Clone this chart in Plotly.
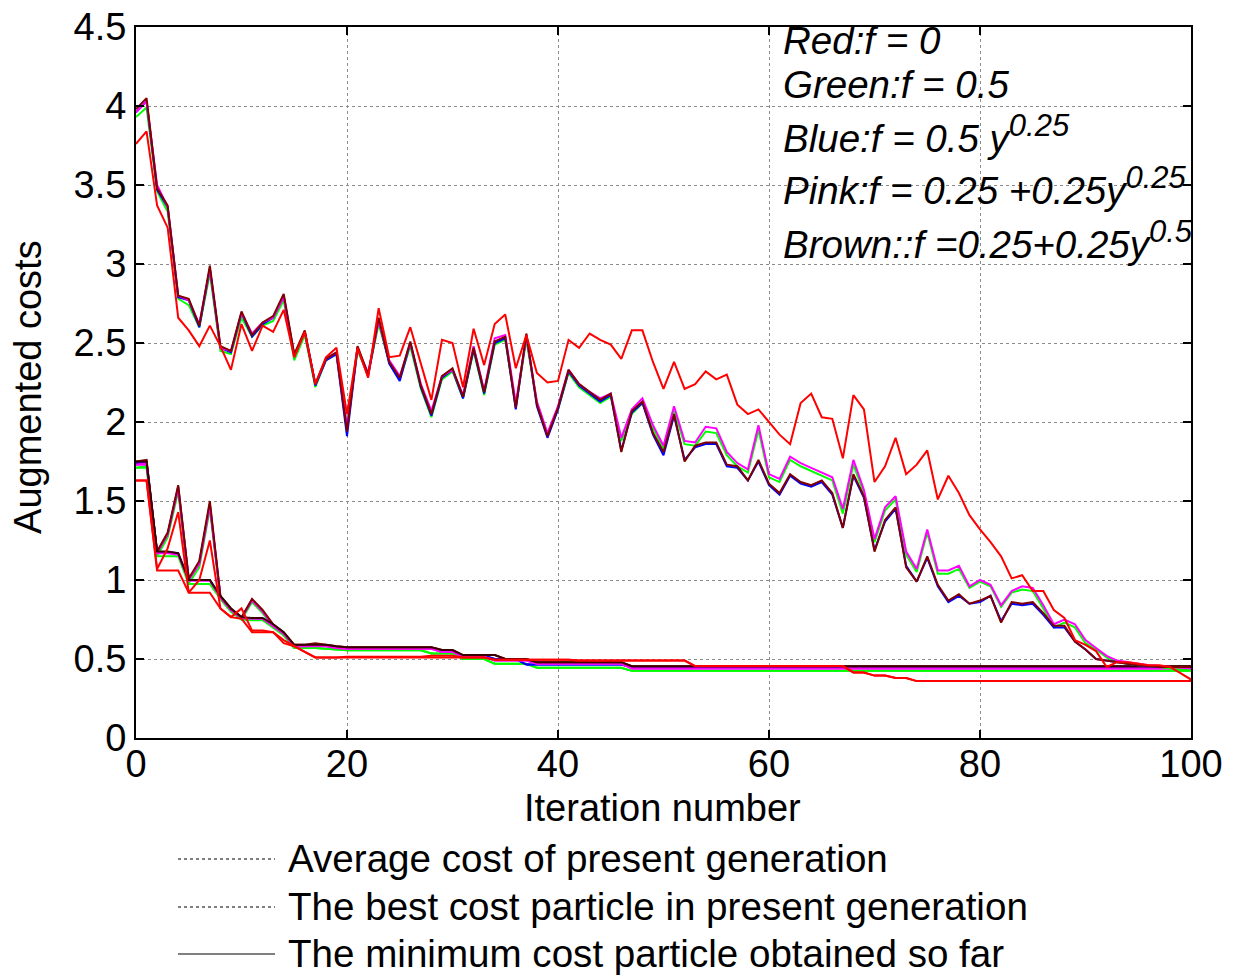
import plotly.graph_objects as go

iters = list(range(101))

# ---- average cost curves (upper group) ----
avg_red = [3.76,3.84,3.37,3.23,2.66,2.58,2.48,2.61,2.48,2.33,
2.62,2.45,2.61,2.57,2.71,2.41,2.57,2.24,2.41,2.47,
2.05,2.47,2.28,2.72,2.41,2.42,2.60,2.37,2.14,2.52,
2.50,2.22,2.59,2.36,2.62,2.68,2.34,2.55,2.31,2.25,
2.26,2.52,2.47,2.56,2.52,2.49,2.40,2.58,2.58,2.38,
2.21,2.38,2.21,2.24,2.32,2.27,2.30,2.11,2.05,2.08,
2.00,1.92,1.86,2.12,2.18,2.03,2.02,1.77,2.17,2.08,
1.62,1.72,1.90,1.67,1.73,1.82,1.51,1.66,1.55,1.41,
1.32,1.24,1.15,1.01,1.03,0.93,0.93,0.81,0.76,0.62,
0.59,0.55,0.45,0.48,0.48,0.47,0.46,0.46,0.45,0.41,0.37]

avg_green = [3.93,3.99,3.46,3.33,2.78,2.74,2.60,2.94,2.45,2.43,
2.66,2.54,2.61,2.64,2.77,2.39,2.55,2.22,2.39,2.43,
1.98,2.45,2.30,2.62,2.38,2.27,2.48,2.21,2.03,2.27,
2.32,2.15,2.45,2.17,2.49,2.52,2.10,2.52,2.12,1.92,
2.08,2.31,2.22,2.17,2.12,2.16,1.88,2.05,2.12,1.96,
1.83,2.07,1.86,1.85,1.94,1.93,1.79,1.72,1.68,1.95,
1.65,1.62,1.76,1.72,1.69,1.66,1.63,1.42,1.73,1.55,
1.24,1.44,1.51,1.16,1.05,1.30,1.04,1.04,1.07,0.95,
0.99,0.96,0.83,0.92,0.94,0.93,0.82,0.70,0.73,0.70,
0.60,0.56,0.51,0.48,0.47,0.46,0.455,0.45,0.44,0.435,0.43]

avg_blue = [3.96,4.03,3.47,3.36,2.79,2.77,2.60,2.97,2.47,2.44,
2.69,2.54,2.62,2.66,2.80,2.42,2.57,2.23,2.39,2.43,
1.91,2.47,2.29,2.65,2.37,2.26,2.50,2.22,2.04,2.28,
2.33,2.15,2.46,2.18,2.50,2.53,2.08,2.55,2.10,1.90,
2.08,2.32,2.23,2.18,2.13,2.17,1.82,2.06,2.12,1.92,
1.79,2.04,1.76,1.84,1.86,1.86,1.72,1.71,1.63,1.75,
1.60,1.54,1.66,1.61,1.59,1.62,1.54,1.33,1.66,1.52,
1.19,1.37,1.45,1.09,0.99,1.14,0.96,0.86,0.90,0.85,
0.86,0.90,0.74,0.85,0.84,0.85,0.78,0.70,0.70,0.61,
0.56,0.50,0.49,0.48,0.47,0.46,0.455,0.45,0.45,0.45,0.445]

avg_pink = [3.96,4.03,3.50,3.36,2.80,2.77,2.62,2.97,2.47,2.45,
2.69,2.56,2.63,2.66,2.79,2.41,2.57,2.24,2.40,2.44,
1.97,2.47,2.31,2.64,2.39,2.29,2.50,2.24,2.07,2.29,
2.33,2.17,2.48,2.20,2.53,2.55,2.12,2.54,2.13,1.93,
2.10,2.33,2.24,2.19,2.15,2.18,1.90,2.08,2.15,1.98,
1.85,2.10,1.88,1.87,1.97,1.96,1.81,1.74,1.70,1.98,
1.67,1.64,1.78,1.74,1.71,1.68,1.65,1.45,1.76,1.57,
1.26,1.46,1.53,1.18,1.07,1.32,1.06,1.06,1.09,0.96,
1.00,0.97,0.84,0.93,0.96,0.95,0.84,0.72,0.75,0.72,
0.62,0.57,0.52,0.49,0.48,0.47,0.46,0.455,0.45,0.445,0.44]

avg_brown = [3.98,4.05,3.48,3.37,2.80,2.78,2.61,2.99,2.48,2.45,
2.70,2.55,2.63,2.67,2.81,2.43,2.58,2.24,2.40,2.44,
1.94,2.48,2.30,2.66,2.38,2.28,2.51,2.23,2.05,2.29,
2.34,2.16,2.47,2.19,2.51,2.54,2.09,2.56,2.11,1.91,
2.09,2.33,2.24,2.19,2.14,2.18,1.81,2.07,2.13,1.93,
1.81,2.05,1.75,1.85,1.87,1.87,1.73,1.72,1.63,1.76,
1.61,1.55,1.67,1.62,1.60,1.63,1.55,1.33,1.67,1.53,
1.18,1.38,1.46,1.08,0.99,1.15,0.97,0.87,0.91,0.85,
0.87,0.90,0.73,0.86,0.85,0.86,0.79,0.71,0.71,0.61,
0.56,0.50,0.49,0.48,0.47,0.46,0.455,0.45,0.45,0.45,0.45]

# ---- best cost particle in present generation (lower group) ----
best_red = [1.63,1.63,1.07,1.20,1.43,0.92,1.00,1.25,0.82,0.765,
0.82,0.68,0.68,0.67,0.62,0.58,0.545,0.51,0.51,0.51,
0.515,0.515,0.515,0.515,0.515,0.515,0.515,0.515,0.52,0.52,
0.52,0.51,0.51,0.51,0.496,0.496,0.496,0.496,0.496,0.496,
0.496,0.496,0.49,0.49,0.49,0.49,0.49,0.49,0.49,0.49,
0.49,0.49,0.49,0.455,0.455,0.455,0.455,0.455,0.455,0.455,
0.455,0.455,0.455,0.455,0.455,0.455,0.455,0.455,0.415,0.415,
0.395,0.395,0.38,0.38,0.36,0.36,0.36,0.36,0.36,0.36,
0.36,0.36,0.36,0.36,0.36,0.36,0.36,0.36,0.36,0.36,
0.36,0.36,0.36,0.36,0.36,0.36,0.36,0.36,0.36,0.36,0.36]

best_green = [1.71,1.72,1.15,1.27,1.56,0.98,1.08,1.45,0.88,0.80,
0.75,0.86,0.79,0.70,0.65,0.57,0.57,0.57,0.565,0.56,
0.555,0.555,0.555,0.555,0.555,0.555,0.555,0.555,0.535,0.535,
0.535,0.50,0.50,0.50,0.47,0.47,0.47,0.47,0.445,0.445,
0.445,0.445,0.445,0.445,0.445,0.445,0.445,0.425,0.425,0.425,
0.425,0.425,0.425,0.425,0.425,0.425,0.425,0.425,0.425,0.425,
0.425,0.425,0.425,0.425,0.425,0.425,0.425,0.425,0.425,0.425,
0.425,0.425,0.425,0.425,0.425,0.425,0.425,0.425,0.425,0.425,
0.425,0.425,0.425,0.425,0.425,0.425,0.425,0.425,0.425,0.425,
0.425,0.425,0.425,0.425,0.425,0.425,0.425,0.425,0.425,0.425,0.425]

best_blue = [1.74,1.75,1.175,1.29,1.59,1.005,1.11,1.48,0.895,0.815,
0.76,0.875,0.805,0.715,0.665,0.585,0.585,0.59,0.585,0.575,
0.57,0.57,0.57,0.57,0.57,0.57,0.57,0.57,0.57,0.55,
0.55,0.52,0.52,0.52,0.50,0.50,0.50,0.465,0.465,0.465,
0.465,0.465,0.465,0.465,0.465,0.465,0.465,0.448,0.448,0.448,
0.448,0.448,0.448,0.448,0.448,0.448,0.448,0.448,0.448,0.448,
0.448,0.448,0.448,0.448,0.448,0.448,0.448,0.448,0.448,0.448,
0.448,0.448,0.448,0.448,0.448,0.448,0.448,0.448,0.448,0.448,
0.448,0.448,0.448,0.448,0.448,0.448,0.448,0.448,0.448,0.448,
0.448,0.448,0.448,0.448,0.448,0.448,0.448,0.448,0.448,0.448,0.448]

best_pink = [1.73,1.74,1.17,1.29,1.58,1.00,1.10,1.47,0.89,0.81,
0.76,0.87,0.80,0.71,0.66,0.58,0.58,0.585,0.58,0.57,
0.565,0.565,0.565,0.565,0.565,0.565,0.565,0.565,0.565,0.545,
0.545,0.515,0.515,0.515,0.49,0.49,0.49,0.49,0.47,0.47,
0.47,0.47,0.47,0.47,0.47,0.47,0.47,0.44,0.44,0.44,
0.44,0.44,0.44,0.44,0.44,0.44,0.44,0.44,0.44,0.44,
0.44,0.44,0.44,0.44,0.44,0.44,0.44,0.44,0.44,0.44,
0.44,0.44,0.44,0.44,0.44,0.44,0.44,0.44,0.44,0.44,
0.44,0.44,0.44,0.44,0.44,0.44,0.44,0.44,0.44,0.44,
0.44,0.44,0.44,0.44,0.44,0.44,0.44,0.44,0.44,0.44,0.44]

best_brown = [1.75,1.76,1.18,1.30,1.60,1.01,1.12,1.50,0.90,0.82,
0.765,0.88,0.81,0.72,0.67,0.59,0.59,0.60,0.59,0.58,
0.575,0.575,0.575,0.575,0.575,0.575,0.575,0.575,0.575,0.557,
0.557,0.525,0.525,0.525,0.525,0.50,0.50,0.50,0.48,0.48,
0.48,0.48,0.48,0.48,0.48,0.48,0.48,0.454,0.454,0.454,
0.454,0.454,0.454,0.454,0.454,0.454,0.454,0.454,0.454,0.454,
0.454,0.454,0.454,0.454,0.454,0.454,0.454,0.454,0.454,0.454,
0.454,0.454,0.454,0.454,0.454,0.454,0.454,0.454,0.454,0.454,
0.454,0.454,0.454,0.454,0.454,0.454,0.454,0.454,0.454,0.454,
0.454,0.454,0.454,0.454,0.454,0.454,0.454,0.454,0.454,0.454,0.454]

# ---- minimum cost particle obtained so far (lower group) ----
min_red = [1.63,1.63,1.06,1.06,1.06,0.92,0.92,0.92,0.82,0.765,
0.755,0.67,0.67,0.67,0.60,0.58,0.545,0.51,0.51,0.51,
0.51,0.51,0.51,0.51,0.51,0.51,0.51,0.51,0.51,0.51,
0.51,0.51,0.51,0.51,0.496,0.496,0.496,0.496,0.496,0.496,
0.496,0.496,0.49,0.49,0.49,0.49,0.49,0.49,0.49,0.49,
0.49,0.49,0.49,0.455,0.455,0.455,0.455,0.455,0.455,0.455,
0.455,0.455,0.455,0.455,0.455,0.455,0.455,0.455,0.415,0.415,
0.395,0.395,0.38,0.38,0.36,0.36,0.36,0.36,0.36,0.36,
0.36,0.36,0.36,0.36,0.36,0.36,0.36,0.36,0.36,0.36,
0.36,0.36,0.36,0.36,0.36,0.36,0.36,0.36,0.36,0.36,0.36]

min_green = [1.71,1.71,1.15,1.15,1.15,0.975,0.975,0.975,0.88,0.80,
0.75,0.745,0.745,0.70,0.65,0.57,0.57,0.57,0.565,0.56,
0.555,0.555,0.555,0.555,0.555,0.555,0.555,0.555,0.535,0.535,
0.535,0.50,0.50,0.50,0.47,0.47,0.47,0.47,0.445,0.445,
0.445,0.445,0.445,0.445,0.445,0.445,0.445,0.425,0.425,0.425,
0.425,0.425,0.425,0.425,0.425,0.425,0.425,0.425,0.425,0.425,
0.425,0.425,0.425,0.425,0.425,0.425,0.425,0.425,0.425,0.425,
0.425,0.425,0.425,0.425,0.425,0.425,0.425,0.425,0.425,0.425,
0.425,0.425,0.425,0.425,0.425,0.425,0.425,0.425,0.425,0.425,
0.425,0.425,0.425,0.425,0.425,0.425,0.425,0.425,0.425,0.425,0.425]

min_blue = [1.74,1.74,1.175,1.175,1.17,1.00,1.00,1.00,0.895,0.815,
0.76,0.757,0.757,0.715,0.665,0.585,0.585,0.585,0.585,0.575,
0.57,0.57,0.57,0.57,0.57,0.57,0.57,0.57,0.57,0.55,
0.55,0.52,0.52,0.52,0.50,0.50,0.50,0.465,0.465,0.465,
0.465,0.465,0.465,0.465,0.465,0.465,0.465,0.448,0.448,0.448,
0.448,0.448,0.448,0.448,0.448,0.448,0.448,0.448,0.448,0.448,
0.448,0.448,0.448,0.448,0.448,0.448,0.448,0.448,0.448,0.448,
0.448,0.448,0.448,0.448,0.448,0.448,0.448,0.448,0.448,0.448,
0.448,0.448,0.448,0.448,0.448,0.448,0.448,0.448,0.448,0.448,
0.448,0.448,0.448,0.448,0.448,0.448,0.448,0.448,0.448,0.448,0.448]

min_pink = [1.73,1.73,1.17,1.17,1.16,0.995,0.995,0.995,0.89,0.81,
0.76,0.755,0.755,0.71,0.66,0.58,0.58,0.58,0.58,0.57,
0.565,0.565,0.565,0.565,0.565,0.565,0.565,0.565,0.565,0.545,
0.545,0.515,0.515,0.515,0.49,0.49,0.49,0.49,0.47,0.47,
0.47,0.47,0.47,0.47,0.47,0.47,0.47,0.44,0.44,0.44,
0.44,0.44,0.44,0.44,0.44,0.44,0.44,0.44,0.44,0.44,
0.44,0.44,0.44,0.44,0.44,0.44,0.44,0.44,0.44,0.44,
0.44,0.44,0.44,0.44,0.44,0.44,0.44,0.44,0.44,0.44,
0.44,0.44,0.44,0.44,0.44,0.44,0.44,0.44,0.44,0.44,
0.44,0.44,0.44,0.44,0.44,0.44,0.44,0.44,0.44,0.44,0.44]

min_brown = [1.75,1.75,1.18,1.18,1.17,1.00,1.00,1.00,0.90,0.82,
0.765,0.76,0.76,0.72,0.67,0.59,0.59,0.59,0.59,0.58,
0.575,0.575,0.575,0.575,0.575,0.575,0.575,0.575,0.575,0.557,
0.557,0.525,0.525,0.525,0.525,0.50,0.50,0.50,0.48,0.48,
0.48,0.48,0.48,0.48,0.48,0.48,0.48,0.454,0.454,0.454,
0.454,0.454,0.454,0.454,0.454,0.454,0.454,0.454,0.454,0.454,
0.454,0.454,0.454,0.454,0.454,0.454,0.454,0.454,0.454,0.454,
0.454,0.454,0.454,0.454,0.454,0.454,0.454,0.454,0.454,0.454,
0.454,0.454,0.454,0.454,0.454,0.454,0.454,0.454,0.454,0.454,
0.454,0.454,0.454,0.454,0.454,0.454,0.454,0.454,0.454,0.454,0.454]

x_ticks = [0, 20, 40, 60, 80, 100]
y_ticks = [0, 0.5, 1, 1.5, 2, 2.5, 3, 3.5, 4, 4.5]
y_tick_text = ["0", "0.5", "1", "1.5", "2", "2.5", "3", "3.5", "4", "4.5"]

legend_labels = ["Average cost of present generation",
                 "The best cost particle in present generation",
                 "The minimum cost particle obtained so far"]
legend_dash = ["dot", "dot", "solid"]

SUP = "<sup><span style='font-size:31px'>{}</span></sup>"
formula_lines = ["Red:f = 0",
                 "Green:f = 0.5",
                 "Blue:f = 0.5 y" + SUP.format("0.25"),
                 "Pink:f = 0.25 +0.25y" + SUP.format("0.25"),
                 "Brown::f =0.25+0.25y" + SUP.format("0.5")]

RED, GREEN, BLUE, PINK, BROWN, DARK = "#FF0000", "#00FF00", "#0000FF", "#FF00FF", "#800000", "#3a0000"
FONT = "Liberation Sans, Arial, Helvetica, sans-serif"

fig = go.Figure()

groups = [
    (min_green, GREEN), (best_green, GREEN),
    (min_blue, BLUE), (best_blue, BLUE),
    (min_pink, PINK), (best_pink, PINK),
    (best_brown, BROWN), (min_brown, DARK),
    (min_red, RED), (best_red, RED),
    (avg_green, GREEN), (avg_blue, BLUE), (avg_pink, PINK), (avg_brown, BROWN), (avg_red, RED),
]
for ys, col in groups:
    fig.add_trace(go.Scatter(x=iters, y=ys, mode="lines",
                             line=dict(color=col, width=2),
                             showlegend=False, hoverinfo="skip"))

axis_common = dict(showline=True, linecolor="black", linewidth=2, mirror="ticks",
                   ticks="inside", ticklen=8, tickwidth=2, tickcolor="black",
                   showgrid=True, gridcolor="#8c8c8c", griddash="dot", gridwidth=1,
                   zeroline=False, automargin=False,
                   tickfont=dict(family=FONT, size=38, color="black"))

fig.update_xaxes(range=[0, 100], tickvals=x_ticks, ticklabelstandoff=-9, **axis_common)
fig.update_yaxes(range=[0, 4.5], tickvals=y_ticks, ticktext=y_tick_text, **axis_common)

annotations = []
# axis titles
annotations.append(dict(text="Iteration number", x=0.4986, y=-0.0985, xref="paper", yref="paper",
                        xanchor="center", yanchor="middle", showarrow=False,
                        font=dict(family=FONT, size=38, color="black")))
annotations.append(dict(text="Augmented costs", x=-0.1024, y=0.4937, xref="paper", yref="paper",
                        xanchor="center", yanchor="middle", textangle=-90, showarrow=False,
                        font=dict(family=FONT, size=38, color="black")))

# formula text block
formula_y = [55, 99, 153, 205, 259]   # baselines in px
for txt, base in zip(formula_lines, formula_y):
    annotations.append(dict(text="<i>" + txt + "</i>", x=(782 - 136) / 1055, y=(738 - (base + 8)) / 711,
                            xref="paper", yref="paper", xanchor="left", yanchor="bottom",
                            showarrow=False, borderpad=0,
                            font=dict(family=FONT, size=38.5, color="black")))

# legend below plot
shapes = []
legend_rows = [859, 907, 954]
for lab, dash, row in zip(legend_labels, legend_dash, legend_rows):
    yp = (738 - row) / 711
    shapes.append(dict(type="line", xref="paper", yref="paper",
                       x0=(178 - 136) / 1055, x1=(275 - 136) / 1055, y0=yp, y1=yp,
                       line=dict(color="black", width=1, dash=dash)))
    annotations.append(dict(text=lab, x=(286 - 136) / 1055, y=(738 - (row - 1)) / 711,
                            xref="paper", yref="paper", xanchor="left", yanchor="middle",
                            showarrow=False, font=dict(family=FONT, size=38.6, color="black")))

fig.update_layout(width=1241, height=976, margin=dict(l=136, r=50, t=27, b=238),
                  paper_bgcolor="white", plot_bgcolor="white",
                  annotations=annotations, shapes=shapes, showlegend=False,
                  font=dict(family=FONT, color="black"))

fig.write_html("out.html")
